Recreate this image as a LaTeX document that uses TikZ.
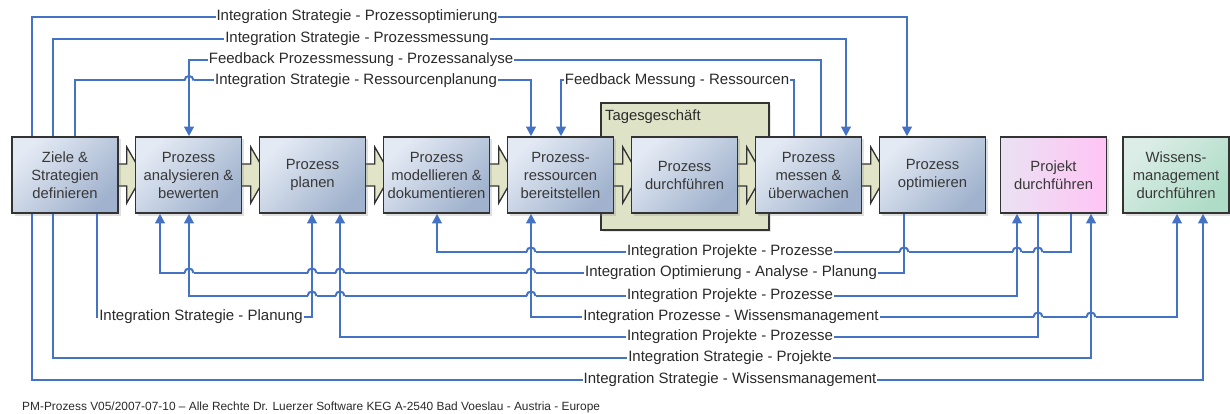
\documentclass[tikz,border=0pt]{standalone}
\usepackage{fontspec}
\setmainfont{Liberation Sans}
\usetikzlibrary{arrows.meta,shadows,calc}

\definecolor{link}{HTML}{4472C4}
\definecolor{edge}{HTML}{333333}
\definecolor{txt}{HTML}{383838}
\definecolor{labtxt}{HTML}{2A2A2A}
\definecolor{procA}{HTML}{E4EAF4}
\definecolor{procB}{HTML}{A0B2CD}
\definecolor{projA}{HTML}{EAE2F3}
\definecolor{projB}{HTML}{FFC4F5}
\definecolor{wissA}{HTML}{DCEDE8}
\definecolor{wissB}{HTML}{AEDCC6}
\definecolor{daily}{HTML}{DEE2C6}
\definecolor{chev}{HTML}{E2E4C8}

\pgfdeclarelayer{bg}
\pgfdeclarelayer{mid}
\pgfsetlayers{bg,mid,main}

% a small bridge where a horizontal connector passes over a vertical one
\newcommand\jumpover[2]{%
  \fill[white] (#1-4.5,#2-1.8) rectangle (#1+4.5,#2+1.8);
  \draw[linkline] (#1,#2-5.5) -- (#1,#2+5.5);
  \draw[linkline] (#1-4.5,#2) .. controls (#1-4.5,#2-6) and (#1+4.5,#2-6) .. (#1+4.5,#2);
}
% block arrow between two neighbouring steps
\newcommand\flowarrow[2]{%
  \path[chevron] ($(#1.east)+(-3,-11)$) -- ($(#2.west)+(-8,-11)$) -- ($(#2.west)+(-8,-28)$)
    -- ($(#2.west)+(8,0)$) -- ($(#2.west)+(-8,28)$) -- ($(#2.west)+(-8,11)$)
    -- ($(#1.east)+(-3,11)$) -- cycle;
}

\begin{document}
\begin{tikzpicture}[x=1pt,y=-1pt,
  box/.style={draw=edge, line width=1.5pt, minimum width=106pt, minimum height=76pt,
    align=center, text=txt, inner sep=2pt, font=\fontsize{14.8}{18}\selectfont,
    drop shadow={shadow xshift=2.5pt, shadow yshift=-2.5pt, opacity=.25, fill=gray}},
  proc/.style={box, top color=procA, bottom color=procB, shading angle=45},
  proj/.style={box, left color=projA, right color=projB},
  wiss/.style={box, top color=wissA, bottom color=wissB, shading angle=45},
  linkline/.style={draw=link, line width=2pt},
  conn/.style={linkline, -{Triangle[length=9.5pt,width=9.5pt]}},
  bothconn/.style={linkline, {Triangle[length=9.5pt,width=9.5pt]}-{Triangle[length=9.5pt,width=9.5pt]}},
  lab/.style={fill=white, inner sep=1pt, text=labtxt, font=\fontsize{15}{17}\selectfont},
  chevron/.style={fill=chev, draw=edge, line width=1.3pt, line join=miter},
]
\useasboundingbox (0,0) rectangle (1230,414);

% daily business frame
\begin{pgfonlayer}{bg}
  \node[draw=edge, fill=daily, line width=1.5pt, minimum width=168pt, minimum height=127pt,
        drop shadow={shadow xshift=2pt, shadow yshift=-2pt, opacity=.2, fill=gray}]
        (tg) at (685,166.5) {};
  \node[anchor=west, inner sep=0pt, text=labtxt, font=\fontsize{14.8}{17}\selectfont]
        (tglabel) at (605,117) {Tagesgeschäft};
\end{pgfonlayer}

% process steps
\node[proc] (b1)  at (65,175)    {Ziele \&\\Strategien\\definieren};
\node[proc] (b2)  at (188.5,175) {Prozess\\analysieren \&\\bewerten};
\node[proc] (b3)  at (312.5,175) {Prozess\\planen};
\node[proc] (b4)  at (436.5,175) {Prozess\\modellieren \&\\dokumentieren};
\node[proc] (b5)  at (560.5,175) {Prozess-\\ressourcen\\bereitstellen};
\node[proc] (b6)  at (684.5,175) {Prozess\\durchführen};
\node[proc] (b7)  at (808.5,175) {Prozess\\messen \&\\überwachen};
\node[proc] (b8)  at (932.5,175) {Prozess\\optimieren};
\node[proj] (b9)  at (1053.5,175) {Projekt\\durchführen};
\node[wiss] (b10) at (1176,175)  {Wissens-\\management\\durchführen};

\begin{pgfonlayer}{mid}
  \flowarrow{b1}{b2}
  \flowarrow{b2}{b3}
  \flowarrow{b3}{b4}
  \flowarrow{b4}{b5}
  \flowarrow{b5}{b6}
  \flowarrow{b6}{b7}
  \flowarrow{b7}{b8}
\end{pgfonlayer}

% connectors above the steps
\draw[conn] (b1.north -| 32,0) -- (32,17) -- (907,17) -- (b8.north -| 907,0);
\draw[conn] (b1.north -| 53,0) -- (53,39) -- (846,39) -- (b7.north -| 846,0);
\draw[conn] (b7.north -| 821,0) -- (821,60) -- (189,60) -- (b2.north -| 189,0);
\draw[conn] (b1.north -| 75,0) -- (75,80.5) -- (531,80.5) -- (b5.north -| 531,0);
\draw[conn] (b7.north -| 794,0) -- (794,80.5) -- (561,80.5) -- (b5.north -| 561,0);

% connectors below the steps
\draw[conn] (b9.south -| 1071,0) -- (1071,252) -- (437,252) -- (b4.south -| 437,0);
\draw[conn] (b8.south -| 904,0) -- (904,273) -- (160,273) -- (b2.south -| 160,0);
\draw[bothconn] (b2.south -| 189,0) -- (189,296) -- (1017,296) -- (b9.south -| 1017,0);
\draw[conn] (b1.south -| 97,0) -- (97,317) -- (312,317) -- (b3.south -| 312,0);
\draw[bothconn] (b5.south -| 531,0) -- (531,317) -- (1177,317) -- (b10.south -| 1177,0);
\draw[conn] (b9.south -| 1038,0) -- (1038,337) -- (340,337) -- (b3.south -| 340,0);
\draw[conn] (b1.south -| 53,0) -- (53,358) -- (1091,358) -- (b9.south -| 1091,0);
\draw[conn] (b1.south -| 32,0) -- (32,380) -- (1203,380) -- (b10.south -| 1203,0);

% line bridges
\jumpover{189}{80.5}
\jumpover{1038}{252}
\jumpover{1017}{252}
\jumpover{904}{252}
\jumpover{531}{252}
\jumpover{531}{273}
\jumpover{340}{273}
\jumpover{312}{273}
\jumpover{189}{273}
\jumpover{531}{296}
\jumpover{340}{296}
\jumpover{312}{296}
\jumpover{1038}{317}
\jumpover{1091}{317}

% connector labels
\node[lab] (l1)  at (357,17)   {Integration Strategie - Prozessoptimierung};
\node[lab] (l2)  at (357,39)   {Integration Strategie - Prozessmessung};
\node[lab] (l3)  at (361,60)   {Feedback Prozessmessung - Prozessanalyse};
\node[lab] (l4)  at (356,80.5) {Integration Strategie - Ressourcenplanung};
\node[lab] (l5)  at (677,80.5) {Feedback Messung - Ressourcen};
\node[lab] (l6)  at (730,252)  {Integration Projekte - Prozesse};
\node[lab] (l7)  at (731,273)  {Integration Optimierung - Analyse - Planung};
\node[lab] (l8)  at (730,296)  {Integration Projekte - Prozesse};
\node[lab] (l9)  at (201,317)  {Integration Strategie - Planung};
\node[lab] (l10) at (731,317)  {Integration Prozesse - Wissensmanagement};
\node[lab] (l11) at (730,337)  {Integration Projekte - Prozesse};
\node[lab] (l12) at (730,358)  {Integration Strategie - Projekte};
\node[lab] (l13) at (730,380)  {Integration Strategie - Wissensmanagement};

% footer
\node[anchor=west, inner sep=0pt, text=labtxt, font=\fontsize{11.9}{14}\selectfont]
  (foot) at (22,407) {PM-Prozess V05/2007-07-10 – Alle Rechte Dr. Luerzer Software KEG A-2540 Bad Voeslau - Austria - Europe};
\end{tikzpicture}
\end{document}
